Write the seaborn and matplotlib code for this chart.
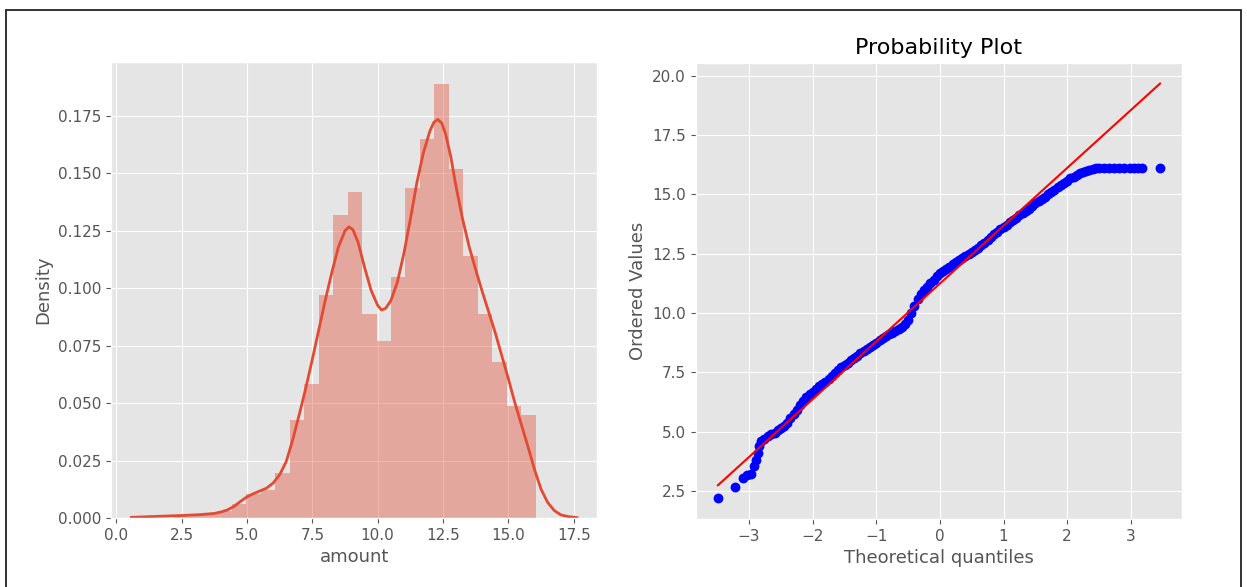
import numpy as np
import pandas as pd
import seaborn as sns
from matplotlib import pyplot as plt
from matplotlib.patches import Rectangle
plt.style.use('ggplot')

# histogram of amount (density), bin edges + bar heights
bin_edges = [2.20, 2.75, 3.31, 3.86, 4.42, 4.97, 5.52, 6.08, 6.63, 7.19, 7.74, 8.29, 8.85,
             9.40, 9.96, 10.51, 11.06, 11.62, 12.17, 12.73, 13.28, 13.83, 14.39, 14.94, 15.50, 16.05]
bin_density = [0.001, 0.0015, 0.002, 0.003, 0.006, 0.0105, 0.012, 0.0196, 0.0427, 0.0585,
               0.097, 0.132, 0.142, 0.0886, 0.077, 0.105, 0.1435, 0.165, 0.189, 0.152,
               0.114, 0.0886, 0.0678, 0.0487, 0.0447]

# kde curve
kde_x = [0.58, 1.5, 2.5, 3.25, 3.75, 4.0, 4.25, 4.5, 4.75, 5.0, 5.25, 5.5, 5.75, 6.0, 6.25,
         6.5, 6.75, 7.0, 7.25, 7.5, 7.75, 8.0, 8.25, 8.5, 8.75, 8.9, 9.05, 9.25, 9.5, 9.75,
         10.0, 10.15, 10.3, 10.5, 10.75, 11.0, 11.25, 11.5, 11.75, 12.0, 12.15, 12.3, 12.45,
         12.6, 12.8, 13.0, 13.25, 13.5, 13.75, 14.0, 14.25, 14.5, 14.75, 15.0, 15.25, 15.5,
         15.75, 16.0, 16.25, 16.5, 16.75, 17.0, 17.3, 17.62]
kde_y = [0.0003, 0.0007, 0.0011, 0.0015, 0.002, 0.0026, 0.0035, 0.005, 0.0072, 0.0092,
         0.0106, 0.0118, 0.013, 0.0152, 0.0188, 0.0245, 0.034, 0.045, 0.0565, 0.069, 0.082,
         0.095, 0.107, 0.118, 0.125, 0.1267, 0.1255, 0.12, 0.109, 0.099, 0.0925, 0.0905,
         0.0912, 0.0945, 0.1025, 0.115, 0.13, 0.146, 0.159, 0.1685, 0.1722, 0.1734, 0.1718,
         0.167, 0.157, 0.144, 0.13, 0.118, 0.108, 0.0985, 0.0895, 0.0805, 0.0705, 0.0605,
         0.05, 0.0405, 0.031, 0.021, 0.0125, 0.0068, 0.0033, 0.0014, 0.0006, 0.0002]

# probability plot: theoretical quantiles vs ordered values
osm = [-3.49, -3.22, -3.10, -3.03, -2.97, -2.92, -2.89, -2.86, -2.84, -2.81, -2.76,
       -2.70, -2.65, -2.60, -2.55, -2.50, -2.45, -2.40, -2.35, -2.30, -2.25, -2.20, -2.15,
       -2.10, -2.05, -2.00, -1.95, -1.90, -1.85, -1.80, -1.75, -1.70, -1.65, -1.60, -1.55,
       -1.50, -1.45, -1.40, -1.35, -1.30, -1.25, -1.20, -1.15, -1.10, -1.05, -1.00, -0.95,
       -0.90, -0.85, -0.80, -0.75, -0.70, -0.65, -0.60, -0.55, -0.50, -0.45, -0.40, -0.35,
       -0.30, -0.25, -0.20, -0.15, -0.10, -0.05, 0.00, 0.05, 0.10, 0.15, 0.20, 0.25, 0.30,
       0.35, 0.40, 0.45, 0.50, 0.55, 0.60, 0.65, 0.70, 0.75, 0.80, 0.85, 0.90, 0.95, 1.00,
       1.05, 1.10, 1.15, 1.20, 1.25, 1.30, 1.35, 1.40, 1.45, 1.50, 1.55, 1.60, 1.65, 1.70,
       1.75, 1.80, 1.85, 1.90, 1.95, 2.00, 2.05, 2.10, 2.15, 2.20, 2.25, 2.30, 2.35, 2.40,
       2.45, 2.50, 2.58, 2.66, 2.74, 2.82, 2.90, 2.98, 3.05, 3.11, 3.18, 3.46]
osr = [2.19, 2.66, 3.05, 3.15, 3.22, 3.55, 3.80, 4.10, 4.40, 4.60, 4.70,
       4.82, 4.88, 4.95, 5.05, 5.15, 5.25, 5.35, 5.55, 5.75, 5.92, 6.10, 6.28,
       6.45, 6.57, 6.68, 6.79, 6.90, 7.00, 7.10, 7.22, 7.35, 7.48, 7.60, 7.71,
       7.82, 7.91, 8.00, 8.10, 8.20, 8.30, 8.40, 8.49, 8.58, 8.66, 8.75, 8.85,
       8.95, 9.03, 9.10, 9.17, 9.25, 9.33, 9.42, 9.52, 9.70, 9.98, 10.30, 10.58,
       10.80, 10.97, 11.10, 11.25, 11.40, 11.55, 11.68, 11.77, 11.85, 11.95, 12.05, 12.14, 12.22,
       12.31, 12.40, 12.49, 12.58, 12.66, 12.75, 12.85, 12.95, 13.08, 13.20, 13.31, 13.42, 13.52, 13.62,
       13.72, 13.82, 13.92, 14.02, 14.11, 14.20, 14.30, 14.40, 14.51, 14.62, 14.71, 14.80, 14.90, 15.00,
       15.10, 15.20, 15.30, 15.40, 15.49, 15.58, 15.67, 15.75, 15.82, 15.88, 15.94, 16.00, 16.04, 16.08,
       16.09, 16.10, 16.10, 16.10, 16.10, 16.10, 16.10, 16.10, 16.10, 16.10, 16.10, 16.10]
fit_slope = 2.437
fit_intercept = 11.24

plt.rcParams['xtick.labelsize'] = 11
plt.rcParams['ytick.labelsize'] = 11

fig = plt.figure(figsize=(12.47, 5.87), dpi=100)
ax1 = fig.add_axes([0.089, 0.1175, 0.390, 0.777])
ax2 = fig.add_axes([0.558, 0.116, 0.390, 0.777])

# left: distplot-like histogram + kde
edges = np.array(bin_edges)
mids = (edges[:-1] + edges[1:]) / 2
sns.histplot(x=mids, weights=bin_density, bins=bin_edges, stat='count',
             color='#E24A33', alpha=0.4, linewidth=0, ax=ax1)
sns.lineplot(x=kde_x, y=kde_y, color='#E24A33', linewidth=2, estimator=None, sort=False, ax=ax1)
ax1.set_xlabel('amount', fontsize=13)
ax1.set_ylabel('Density', fontsize=13)
ax1.set_xlim(-0.2, 18.4)

# right: probability plot
sns.scatterplot(x=osm, y=osr, color='b', s=50, linewidth=0, ax=ax2)
line_x = np.array([osm[0], osm[-1]])
sns.lineplot(x=line_x, y=fit_slope * line_x + fit_intercept, color='r', linewidth=1.5, ax=ax2)
ax2.set_title('Probability Plot', fontsize=16)
ax2.set_xlabel('Theoretical quantiles', fontsize=13)
ax2.set_ylabel('Ordered Values', fontsize=13)

# frame around the whole picture
fig.add_artist(Rectangle((6 / 1247, -0.05), 1235 / 1247, 1.05 - 10 / 587,
                         transform=fig.transFigure, fill=False, edgecolor='#222222', lw=1.3))

plt.savefig('out.png', dpi=100)
